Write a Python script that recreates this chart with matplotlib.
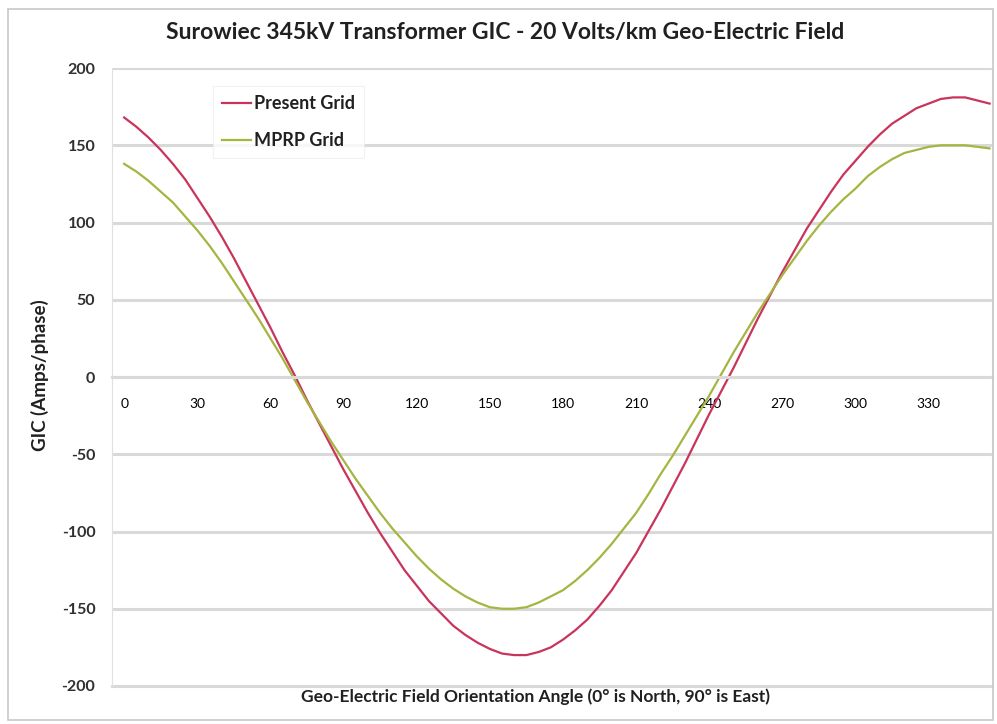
"""Surowiec 345kV transformer GIC vs geo-electric field orientation."""

import matplotlib
matplotlib.use("Agg")
import matplotlib.pyplot as plt
from matplotlib.patches import Rectangle

ANGLES = list(range(0, 360, 5))

PRESENT_GRID = [168, 162, 155, 147, 138, 128, 116, 104, 91, 77, 62, 47, 32, 16,
                1, -15, -30, -45, -60, -74, -88, -101, -113, -125, -135, -145,
                -153, -161, -167, -172, -176, -179, -180, -180, -178, -175,
                -170, -164, -157, -148, -138, -126, -114, -100, -86, -71, -56,
                -40, -24, -9, 6, 22, 38, 53, 68, 82, 96, 108, 120, 131, 140,
                149, 157, 164, 169, 174, 177, 180, 181, 181, 179, 177]

MPRP_GRID = [138, 133, 127, 120, 113, 104, 95, 85, 74, 62, 50, 38, 25, 12, -2,
             -16, -29, -42, -54, -66, -77, -88, -98, -107, -116, -124, -131,
             -137, -142, -146, -149, -150, -150, -149, -146, -142, -138, -132,
             -125, -117, -108, -98, -88, -76, -63, -51, -38, -25, -12, 2, 16,
             29, 42, 54, 66, 77, 88, 98, 107, 115, 122, 130, 136, 141, 145,
             147, 149, 150, 150, 150, 149, 148]

X_TICKS = [0, 30, 60, 90, 120, 150, 180, 210, 240, 270, 300, 330]
Y_TICKS = [-200, -150, -100, -50, 0, 50, 100, 150, 200]

TITLE = "Surowiec 345kV Transformer GIC - 20 Volts/km Geo-Electric Field"
X_LABEL = "Geo-Electric Field Orientation Angle (0\u00b0 is North, 90\u00b0 is East)"
Y_LABEL = "GIC (Amps/phase)"

RED = "#c9345c"
GREEN = "#a5b540"
TEXT = "#303030"
GRID = "#d9d9d9"

plt.rcParams["font.family"] = ["Lato", "DejaVu Sans"]

fig = plt.figure(figsize=(9.97, 7.24), dpi=100)
fig.patches.append(Rectangle((0.008, 0.006), 0.988, 0.982, transform=fig.transFigure,
                             fill=False, edgecolor="#c8c8c8", linewidth=1.2))

ax = fig.add_axes([0.1123, 0.0525, 0.8827, 0.8535])
ax.plot(ANGLES, PRESENT_GRID, color=RED, linewidth=1.6, label="Present Grid",
        solid_joinstyle="round")
ax.plot(ANGLES, MPRP_GRID, color=GREEN, linewidth=1.6, label="MPRP Grid",
        solid_joinstyle="round")

ax.set_xlim(-5, 356)
ax.set_ylim(-200, 200)
ax.set_yticks(Y_TICKS)
ax.set_yticklabels([str(v) for v in Y_TICKS], fontsize=11.5, fontweight="bold", color=TEXT)
ax.set_xticks(X_TICKS)
ax.set_xticklabels([str(v) for v in X_TICKS], fontsize=11.5, fontweight="bold", color=TEXT)
ax.tick_params(axis="both", length=0)
ax.tick_params(axis="x", pad=15)
ax.tick_params(axis="y", pad=12)

ax.grid(axis="y", color=GRID, linewidth=2.2)
ax.set_axisbelow(True)

# Excel-style: category axis crosses at zero
ax.spines["bottom"].set_position(("data", 0))
ax.spines["bottom"].set_color(GRID)
ax.spines["bottom"].set_linewidth(2.2)
ax.spines["top"].set_visible(False)
ax.spines["right"].set_color("#e0e0e0")
ax.spines["left"].set_color("#e0e0e0")
ax.axhline(-200, color=GRID, linewidth=2.2, clip_on=False)

leg = ax.legend(loc="upper left", bbox_to_anchor=(0.105, 0.985), handlelength=1.6,
                handletextpad=0.15, labelspacing=1.1, borderpad=0.5,
                prop={"family": "Lato", "weight": "bold", "size": 13},
                frameon=True, fancybox=False)
leg.get_frame().set_edgecolor("#eeeeee")
leg.get_frame().set_linewidth(0.8)
for t in leg.get_texts():
    t.set_color("#202020")

fig.text(0.507, 0.955, TITLE, ha="center", va="center", fontsize=16.5,
         fontweight="bold", color="#202020")
fig.text(0.537, 0.037, X_LABEL, ha="center", va="center", fontsize=12.5,
         fontweight="bold", color="#202020")
fig.text(0.04, 0.482, Y_LABEL, ha="center", va="center", rotation=90,
         fontsize=13.5, fontweight="bold", color="#202020")

fig.savefig("out.png", dpi=100, facecolor="white")
